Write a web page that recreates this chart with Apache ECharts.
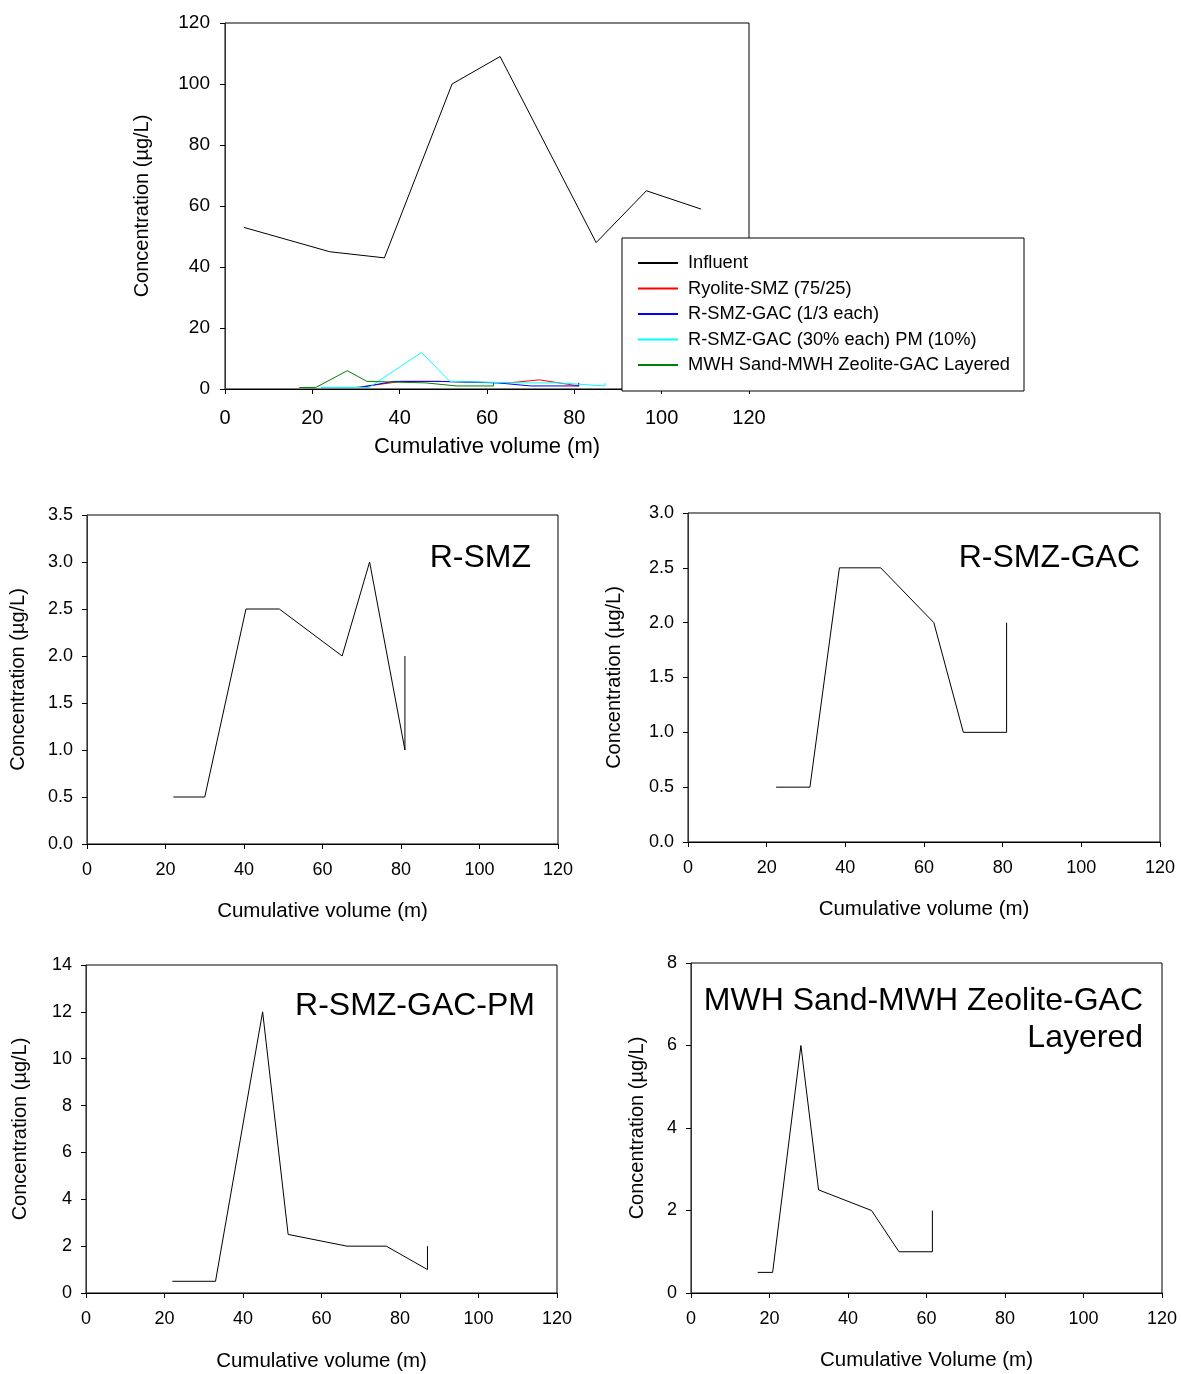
<!DOCTYPE html>
<html>
<head>
<meta charset="utf-8">
<script src="https://cdn.jsdelivr.net/npm/echarts@6/dist/echarts.min.js"></script>
<style>
html,body{margin:0;padding:0;background:#fff;}
#chart{width:1181px;height:1374px;}
</style>
</head>
<body>
<div id="chart"></div>
<script>
// ---------- DATA ----------
const influentX = [4.3, 24, 36.5, 52, 63, 85, 96.5, 109];
const influentY = [53, 45, 43, 100, 109, 48, 65, 59];

const rsmzX = [22, 30, 40.5, 49, 65, 72, 81, 81];
const rsmzY = [0.5, 0.5, 2.5, 2.5, 2.0, 3.0, 1.0, 2.0];

const rsmzGacX = [22.4, 31, 38.5, 49, 62.5, 70, 81, 81];
const rsmzGacY = [0.5, 0.5, 2.5, 2.5, 2.0, 1.0, 1.0, 2.0];

const pmX = [22, 33, 45, 51.5, 66.5, 76.5, 87, 87];
const pmY = [0.5, 0.5, 12, 2.5, 2.0, 2.0, 1.0, 2.0];

const mwhX = [17, 20.8, 28, 32.5, 46, 53, 61.5, 61.5];
const mwhY = [0.5, 0.5, 6, 2.5, 2.0, 1.0, 1.0, 2.0];

const legendNames = ['Influent', 'Ryolite-SMZ (75/25)', 'R-SMZ-GAC (1/3 each)', 'R-SMZ-GAC (30% each) PM (10%)', 'MWH Sand-MWH Zeolite-GAC Layered'];
const panelTitles = ['R-SMZ', 'R-SMZ-GAC', 'R-SMZ-GAC-PM', 'MWH Sand-MWH Zeolite-GAC', 'Layered'];
const xTicks = [0, 20, 40, 60, 80, 100, 120];

// ---------- HELPERS ----------
const FONT = '"Liberation Sans", Arial, sans-serif';
const pairs = (xs, ys) => xs.map((x, i) => [x, ys[i]]);

function makeX(gi, name, fs, nfs, gap, margin) {
  return {
    type: 'value', gridIndex: gi, min: 0, max: 120, interval: 20,
    name: name, nameLocation: 'middle', nameGap: gap,
    nameTextStyle: {fontFamily: FONT, fontSize: nfs, color: '#000'},
    axisLine: {show: true, onZero: false, lineStyle: {color: '#000', width: 1}},
    axisTick: {show: true, length: 5, lineStyle: {color: '#000'}},
    axisLabel: {fontFamily: FONT, fontSize: fs, color: '#000', margin: margin},
    splitLine: {show: false}
  };
}
function makeY(gi, max, interval, dec, fs, nfs, gap, margin) {
  return {
    type: 'value', gridIndex: gi, min: 0, max: max, interval: interval,
    name: 'Concentration (\u00b5g/L)', nameLocation: 'middle', nameGap: gap,
    nameTextStyle: {fontFamily: FONT, fontSize: nfs, color: '#000'},
    axisLine: {show: true, onZero: false, lineStyle: {color: '#333', width: 1}},
    axisTick: {show: true, length: 5, lineStyle: {color: '#000'}},
    axisLabel: {fontFamily: FONT, fontSize: fs, color: '#000', margin: margin,
      formatter: v => dec ? v.toFixed(1) : String(v)},
    splitLine: {show: false}
  };
}
function line(name, xi, yi, data, color) {
  return {
    type: 'line', name: name, xAxisIndex: xi, yAxisIndex: yi, data: data,
    symbol: 'none', showSymbol: false, smooth: false,
    lineStyle: {color: color, width: 1}, itemStyle: {color: color},
    emphasis: {disabled: true}, animation: false, z: 3
  };
}

const gridBase = {show: true, borderColor: '#000', borderWidth: 1, backgroundColor: 'transparent'};

const option = {
  animation: false,
  backgroundColor: '#fff',
  grid: [
    Object.assign({left: 225, top: 23, width: 524, height: 366}, gridBase),
    Object.assign({left: 87, top: 515, width: 471, height: 329}, gridBase),
    Object.assign({left: 688, top: 513, width: 472, height: 329}, gridBase),
    Object.assign({left: 86, top: 965, width: 471, height: 328}, gridBase),
    Object.assign({left: 691, top: 963, width: 471, height: 330}, gridBase)
  ],
  xAxis: [
    makeX(0, 'Cumulative volume (m)', 20, 22, 47, 19),
    makeX(1, 'Cumulative volume (m)', 18, 20.5, 57, 17),
    makeX(2, 'Cumulative volume (m)', 18, 20.5, 57, 17),
    makeX(3, 'Cumulative volume (m)', 18, 20.5, 58, 17),
    makeX(4, 'Cumulative Volume (m)', 18, 20.5, 57, 17)
  ],
  yAxis: [
    makeY(0, 120, 20, false, 19, 20, 73, 15),
    makeY(1, 3.5, 0.5, true, 18, 20, 59, 14),
    makeY(2, 3.0, 0.5, true, 18, 20, 64, 14),
    makeY(3, 14, 2, false, 18, 20, 56, 14),
    makeY(4, 8, 2, false, 18, 20, 44, 14)
  ],
  legend: {
    show: true, orient: 'vertical', left: 637, top: 253, padding: 0,
    itemWidth: 40, itemHeight: 14, itemGap: 5.5, z: 60,
    data: legendNames,
    itemStyle: {opacity: 0},
    textStyle: {fontFamily: FONT, fontSize: 18.3, color: '#000', lineHeight: 20, padding: [0, 0, 0, 5]},
    selectedMode: false
  },
  graphic: [
    {type: 'rect', z: 50, shape: {x: 622, y: 238, width: 402, height: 153},
     style: {fill: '#fff', stroke: '#000', lineWidth: 1}},
    {type: 'text', z: 10, x: 531, y: 558, style: {text: panelTitles[0], textAlign: 'right', textVerticalAlign: 'middle', font: '32px ' + FONT, fill: '#000'}},
    {type: 'text', z: 10, x: 1140, y: 558, style: {text: panelTitles[1], textAlign: 'right', textVerticalAlign: 'middle', font: '32px ' + FONT, fill: '#000'}},
    {type: 'text', z: 10, x: 535, y: 1006, style: {text: panelTitles[2], textAlign: 'right', textVerticalAlign: 'middle', font: '32px ' + FONT, fill: '#000'}},
    {type: 'text', z: 10, x: 1143, y: 1001, style: {text: panelTitles[3], textAlign: 'right', textVerticalAlign: 'middle', font: '32px ' + FONT, fill: '#000'}},
    {type: 'text', z: 10, x: 1143, y: 1038, style: {text: panelTitles[4], textAlign: 'right', textVerticalAlign: 'middle', font: '32px ' + FONT, fill: '#000'}}
  ],
  series: [
    line(legendNames[0], 0, 0, pairs(influentX, influentY), '#000000'),
    line(legendNames[1], 0, 0, pairs(rsmzX, rsmzY), '#ff0000'),
    line(legendNames[2], 0, 0, pairs(rsmzGacX, rsmzGacY), '#0000ff'),
    line(legendNames[3], 0, 0, pairs(pmX, pmY), '#00ffff'),
    line(legendNames[4], 0, 0, pairs(mwhX, mwhY), '#008000'),
    line('R-SMZ panel', 1, 1, pairs(rsmzX, rsmzY), '#000000'),
    line('R-SMZ-GAC panel', 2, 2, pairs(rsmzGacX, rsmzGacY), '#000000'),
    line('R-SMZ-GAC-PM panel', 3, 3, pairs(pmX, pmY), '#000000'),
    line('MWH panel', 4, 4, pairs(mwhX, mwhY), '#000000')
  ]
};

const chart = echarts.init(document.getElementById('chart'), null, {renderer: 'canvas', width: 1181, height: 1374});
chart.setOption(option);
</script>
</body>
</html>
